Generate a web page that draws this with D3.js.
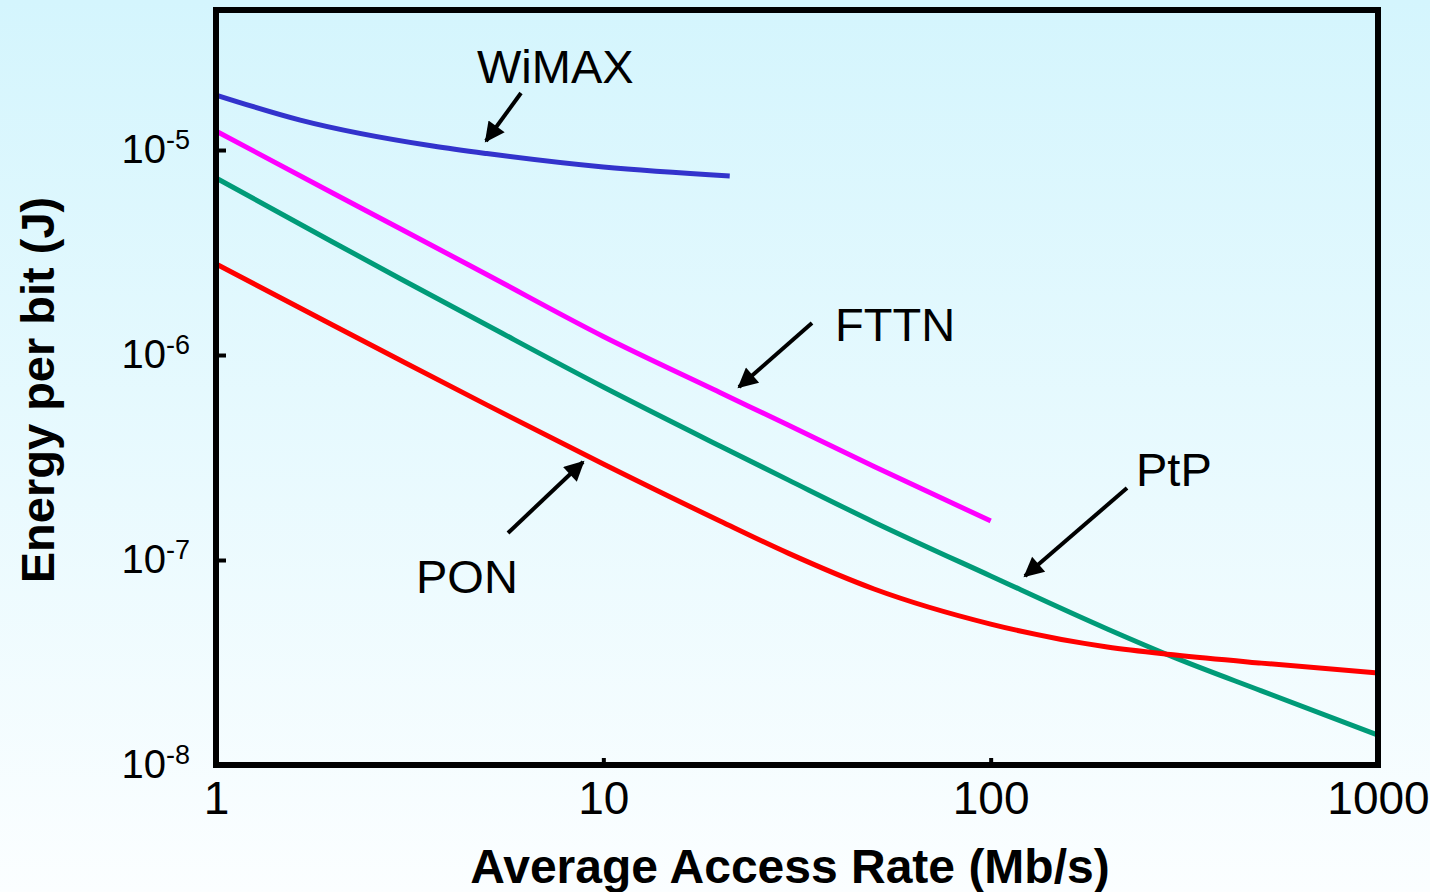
<!DOCTYPE html>
<html>
<head>
<meta charset="utf-8">
<script src="https://cdn.jsdelivr.net/npm/d3@7"></script>
<style>
  html, body { margin: 0; padding: 0; }
  body { width: 1430px; height: 892px; overflow: hidden; }
  svg { display: block; font-family: "Liberation Sans", Arial, Helvetica, sans-serif; }
</style>
</head>
<body>
<svg id="chart" width="1430" height="892"></svg>
<script>
// Energy per bit versus average access rate for four access technologies
const xTicks = [1, 10, 100, 1000];
const yTicks = [1e-8, 1e-7, 1e-6, 1e-5];
const yTickExps = ["-8", "-7", "-6", "-5"];

const wimaxRate   = [1, 1.65, 3.63, 5, 10, 21.2];
const wimaxEnergy = [1.855e-5, 1.40e-5, 1.046e-5, 9.61e-6, 8.26e-6, 7.47e-6];

const fttnRate   = [1, 2, 3, 5, 10, 20, 30, 50, 100];
const fttnEnergy = [1.238e-5, 6.17e-6, 4.12e-6, 2.47e-6, 1.232e-6, 6.57e-7, 4.55e-7, 2.86e-7, 1.55e-7];

const ptpRate   = [1, 2, 3, 5, 10, 20, 30, 50, 100, 200, 300, 500, 1000];
const ptpEnergy = [7.30e-6, 3.56e-6, 2.35e-6, 1.40e-6, 6.98e-7, 3.60e-7, 2.46e-7, 1.53e-7, 8.36e-8, 4.61e-8, 3.33e-8, 2.30e-8, 1.40e-8];

const ponRate   = [1, 2, 3, 5, 10, 20, 30, 50, 100, 200, 300, 500, 1000];
const ponEnergy = [2.78e-6, 1.40e-6, 9.40e-7, 5.71e-7, 2.94e-7, 1.55e-7, 1.08e-7, 7.22e-8, 4.87e-8, 3.76e-8, 3.44e-8, 3.14e-8, 2.81e-8];

const seriesNames  = ["WiMAX", "FTTN", "PtP", "PON"];
const seriesColors = ["#3333CC", "#FF00FF", "#009B78", "#FF0000"];

const svg = d3.select("#chart");
const W = 1430, H = 892;
const plot = { left: 216, right: 1378, top: 10, bottom: 765 };

// page background: pale cyan fading to white
const defs = svg.append("defs");
const grad = defs.append("linearGradient").attr("id", "bg").attr("x1", 0).attr("y1", 0).attr("x2", 0).attr("y2", 1);
grad.append("stop").attr("offset", "0%").attr("stop-color", "#D4F5FD");
grad.append("stop").attr("offset", "100%").attr("stop-color", "#FBFEFF");
svg.append("rect").attr("width", W).attr("height", H).attr("fill", "url(#bg)");

const x = d3.scaleLog().domain([1, 1000]).range([plot.left, plot.right]);
const y = d3.scaleLog().domain([1e-8, 4.82e-5]).range([plot.bottom, plot.top]);

const series = [
  { name: seriesNames[0], color: seriesColors[0], pts: d3.zip(wimaxRate, wimaxEnergy) },
  { name: seriesNames[1], color: seriesColors[1], pts: d3.zip(fttnRate, fttnEnergy) },
  { name: seriesNames[2], color: seriesColors[2], pts: d3.zip(ptpRate, ptpEnergy) },
  { name: seriesNames[3], color: seriesColors[3], pts: d3.zip(ponRate, ponEnergy) }
];

const line = d3.line().x(d => x(d[0])).y(d => y(d[1])).curve(d3.curveMonotoneX);

svg.append("g").selectAll("path")
  .data(series)
  .join("path")
  .attr("d", d => line(d.pts))
  .attr("fill", "none")
  .attr("stroke", d => d.color)
  .attr("stroke-width", 5)
  .attr("stroke-linejoin", "round");

// axes: short ticks pointing into the plot
const xAxis = svg.append("g").attr("transform", `translate(0,${plot.bottom})`)
  .call(d3.axisBottom(x).tickValues(xTicks).tickSizeInner(-7).tickSizeOuter(0).tickPadding(16)
        .tickFormat(d3.format("d")));
xAxis.select(".domain").remove();
xAxis.selectAll(".tick line").attr("stroke", "#000").attr("stroke-width", 4);
xAxis.selectAll(".tick text").attr("fill", "#000").attr("font-size", 46)
  .attr("font-family", "'Liberation Sans', Arial, sans-serif");

const yAxis = svg.append("g").attr("transform", `translate(${plot.left},0)`)
  .call(d3.axisLeft(y).tickValues(yTicks).tickSizeInner(-10).tickSizeOuter(0).tickFormat(() => ""));
yAxis.select(".domain").remove();
yAxis.selectAll(".tick line").attr("stroke", "#000").attr("stroke-width", 4);

// y tick labels as powers of ten
const yLab = svg.append("g").selectAll("text")
  .data(yTicks)
  .join("text")
  .attr("x", 190)
  .attr("y", d => y(d) + 13)
  .attr("text-anchor", "end")
  .attr("fill", "#000");
yLab.append("tspan").attr("font-size", 40).text("10");
yLab.append("tspan").attr("font-size", 27).attr("dy", -14).text((d, i) => yTickExps[i]);

// plot frame
svg.append("rect")
  .attr("x", plot.left).attr("y", plot.top)
  .attr("width", plot.right - plot.left).attr("height", plot.bottom - plot.top)
  .attr("fill", "none").attr("stroke", "#000").attr("stroke-width", 6);

// axis titles
svg.append("text")
  .attr("x", 790).attr("y", 883)
  .attr("text-anchor", "middle")
  .attr("font-size", 48).attr("font-weight", "bold")
  .text("Average Access Rate (Mb/s)");

svg.append("text")
  .attr("transform", "translate(54,390) rotate(-90)")
  .attr("text-anchor", "middle")
  .attr("font-size", 47).attr("font-weight", "bold")
  .text("Energy per bit (J)");

// annotations with arrows
defs.append("marker")
  .attr("id", "head")
  .attr("viewBox", "0 0 10 10")
  .attr("refX", 9).attr("refY", 5)
  .attr("markerWidth", 6).attr("markerHeight", 5)
  .attr("markerUnits", "strokeWidth")
  .attr("orient", "auto")
  .append("path").attr("d", "M0,0 L10,5 L0,10 z").attr("fill", "#000");

const notes = [
  { text: seriesNames[0], tx: 477, ty: 83, x1: 521, y1: 93, x2: 486, y2: 141 },
  { text: seriesNames[1], tx: 835, ty: 341, x1: 812, y1: 323, x2: 739, y2: 387 },
  { text: seriesNames[2], tx: 1136, ty: 486, x1: 1127, y1: 488, x2: 1025, y2: 576 },
  { text: seriesNames[3], tx: 416, ty: 593, x1: 508, y1: 533, x2: 583, y2: 462 }
];

const ann = svg.append("g");
ann.selectAll("line")
  .data(notes)
  .join("line")
  .attr("x1", d => d.x1).attr("y1", d => d.y1)
  .attr("x2", d => d.x2).attr("y2", d => d.y2)
  .attr("stroke", "#000").attr("stroke-width", 4)
  .attr("marker-end", "url(#head)");
ann.selectAll("text")
  .data(notes)
  .join("text")
  .attr("x", d => d.tx).attr("y", d => d.ty)
  .attr("font-size", 47).attr("fill", "#000")
  .text(d => d.text);
</script>
</body>
</html>
